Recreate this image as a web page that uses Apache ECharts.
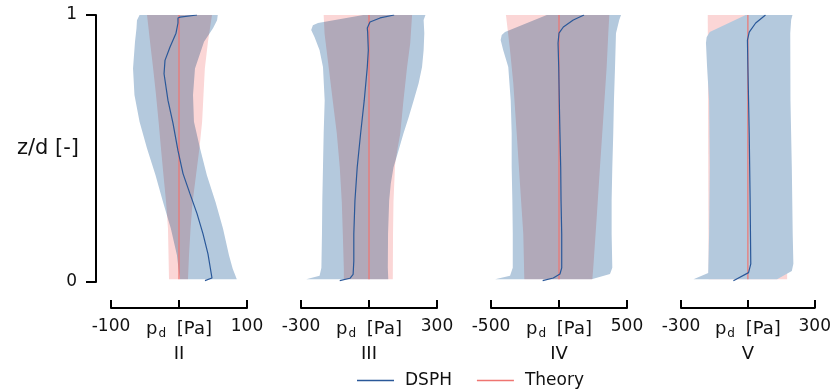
<!DOCTYPE html>
<html>
<head>
<meta charset="utf-8">
<script src="https://cdn.jsdelivr.net/npm/echarts@6/dist/echarts.min.js"></script>
<style>
  html, body { margin: 0; padding: 0; background: #fff; }
  #chart { width: 834px; height: 391px; }
  /* the DSPH envelope layer (zlevel 1) is multiplied onto the theory envelope */
  #chart canvas[data-zr-dom-id="zr_1"] { mix-blend-mode: multiply; }
</style>
</head>
<body>
<div id="chart"></div>
<script>
// Four test cases, each with its own pressure range (Pa)
const panelNames = ['II', 'III', 'IV', 'V'];
const panelRanges = [100, 300, 500, 300];

// Envelopes are lists of [p_d (Pa), z/d] pairs, bottom to top.
// Case II
const theoryMinII = [[-14.7,0.01],[-15.4,0.1],[-16.2,0.2],[-19,0.3],[-22.8,0.4],[-26.5,0.5],[-30,0.6],[-33.8,0.7],[-38,0.8],[-42.6,0.9],[-47,1]];
const theoryMaxII = [[13.2,0.01],[14.7,0.1],[17,0.2],[20,0.3],[25,0.4],[30,0.5],[34,0.6],[36,0.7],[38,0.8],[42.6,0.9],[48.5,1]];
const dsphMinII = [[1.5,0.01],[-0.7,0.05],[-3,0.1],[-12,0.2],[-23.5,0.3],[-34.5,0.4],[-47,0.5],[-58,0.6],[-65.5,0.7],[-67.6,0.8],[-64.7,0.9],[-62.5,0.95],[-61.8,0.98],[-58,1]];
const dsphMaxII = [[85,0.01],[79,0.05],[73.5,0.1],[64.7,0.2],[53.7,0.3],[41,0.4],[31,0.5],[22,0.6],[20.6,0.7],[23.5,0.8],[36.8,0.9],[50,0.95],[56,0.98],[57,1]];
const dsphMeanII = [[38.2,0.005],[48.5,0.015],[42.6,0.105],[35.3,0.18],[26.5,0.256],[16.2,0.33],[5.9,0.406],[-1.5,0.492],[-8.8,0.594],[-16.2,0.68],[-22,0.78],[-20.6,0.83],[-13.2,0.88],[-4.4,0.932],[-1.5,0.97],[-1.5,0.989],[1.5,0.992],[26.5,1]];

// Case III
const theoryMinIII = [[-111,0.01],[-111,0.05],[-115.5,0.18],[-120,0.3],[-129,0.43],[-142,0.556],[-160,0.68],[-178,0.805],[-196,0.93],[-200,1]];
const theoryMaxIII = [[105,0.01],[106,0.18],[108,0.3],[115,0.44],[126,0.5],[138,0.556],[152,0.68],[168,0.805],[182,0.895],[190,1]];
const dsphMinIII = [[-277,0.01],[-218,0.023],[-210,0.053],[-207.5,0.18],[-206,0.305],[-203,0.43],[-200,0.556],[-195.5,0.68],[-203,0.805],[-218,0.868],[-240,0.917],[-255,0.944],[-247.5,0.962],[-225,0.97],[-25,1]];
const dsphMaxIII = [[85,0.01],[83,0.053],[84,0.18],[89,0.305],[96,0.368],[108,0.429],[130,0.492],[152,0.556],[175,0.617],[197,0.68],[219,0.744],[234,0.805],[241,0.868],[244,0.932],[241,0.981],[249,1]];
const dsphMeanIII = [[-129,0.005],[-84,0.014],[-70,0.029],[-67,0.079],[-67,0.18],[-62,0.305],[-52,0.43],[-37,0.556],[-21,0.68],[-7.5,0.805],[-3,0.868],[-6,0.936],[-7.5,0.951],[4.4,0.974],[49,0.989],[111,1]];

// Case IV
const theoryMinIV = [[-255,0.01],[-262.5,0.18],[-287,0.368],[-311,0.556],[-336,0.744],[-360,0.868],[-390,1]];
const theoryMaxIV = [[245,0.01],[252,0.053],[277,0.241],[301,0.429],[326,0.617],[350.5,0.805],[362.5,0.932],[370,1]];
const dsphMinIV = [[-470,0.01],[-360,0.023],[-340,0.053],[-340,0.18],[-343,0.305],[-348,0.43],[-348,0.556],[-355,0.68],[-373,0.805],[-410,0.868],[-429,0.906],[-421,0.925],[-397,0.936],[-90,1]];
const dsphMaxIV = [[240,0.01],[375,0.03],[392,0.053],[387,0.18],[387,0.305],[392,0.43],[399,0.556],[404,0.68],[412,0.805],[419,0.932],[443,0.981],[456,1]];
const dsphMeanIV = [[-120,0.005],[-42,0.015],[7,0.03],[20,0.053],[20,0.18],[15,0.305],[12.5,0.43],[7,0.556],[2,0.68],[-2,0.805],[-7,0.895],[0,0.932],[32,0.955],[105,0.981],[184,1]];

// Case V
const theoryMinV = [[-176,0.01],[-178,0.5],[-180,1]];
const theoryMaxV = [[176,0.01],[178,0.5],[180,1]];
const dsphMinV = [[-244,0.01],[-178,0.034],[-174,0.18],[-171,0.43],[-174,0.68],[-183,0.805],[-188,0.895],[-185,0.917],[-171,0.936],[-10,1]];
const dsphMaxV = [[131,0.01],[197,0.041],[204,0.068],[201,0.18],[197,0.43],[191,0.68],[190,0.932],[194,0.981],[200,1]];
const dsphMeanV = [[-65,0.005],[3,0.035],[13,0.068],[10,0.305],[6,0.556],[0,0.805],[-2,0.906],[6,0.936],[35,0.97],[79,1]];

// Theoretical mean dynamic pressure is zero over the depth
const theoryMean = [[0,0.01],[0,1]];

const theoryMins = [theoryMinII, theoryMinIII, theoryMinIV, theoryMinV];
const theoryMaxs = [theoryMaxII, theoryMaxIII, theoryMaxIV, theoryMaxV];
const dsphMins = [dsphMinII, dsphMinIII, dsphMinIV, dsphMinV];
const dsphMaxs = [dsphMaxII, dsphMaxIII, dsphMaxIV, dsphMaxV];
const dsphMeans = [dsphMeanII, dsphMeanIII, dsphMeanIV, dsphMeanV];

const FONT = 'DejaVu Sans';
const COLORS = {
  theoryBand: '#fbd6d6',
  dsphBand: '#b4c9dd',
  theoryLine: '#ef7571',
  dsphLine: '#2a5899',
  axis: '#000',
  text: '#111'
};
// zlevel 1 is multiplied onto the layer below; case V keeps its DSPH envelope opaque on top
const dsphLayer = [1, 1, 1, 0];

// closed outline: left edge upward, right edge downward
function envelope(minEdge, maxEdge) {
  return minEdge.concat(maxEdge.slice().reverse());
}

function bandSeries(i, pts, fill, zlevel, name) {
  return {
    type: 'custom',
    name: name,
    xAxisIndex: i,
    yAxisIndex: i,
    zlevel: zlevel,
    silent: true,
    data: pts,
    encode: { x: 0, y: 1 },
    renderItem: function (params, api) {
      if (params.dataIndex !== 0) return null;
      return {
        type: 'polygon',
        shape: { points: pts.map(function (p) { return api.coord(p); }) },
        style: { fill: fill, stroke: null }
      };
    }
  };
}

const PANEL_LEFT = 111, PANEL_STEP = 190, PANEL_W = 136;
const grids = [], xAxes = [], yAxes = [], series = [];

panelNames.forEach(function (name, i) {
  const r = panelRanges[i];
  grids.push({ left: PANEL_LEFT + PANEL_STEP * i, width: PANEL_W, top: 15, height: 267 });
  xAxes.push({
    gridIndex: i, type: 'value', min: -r, max: r, interval: r,
    position: 'bottom', offset: 26,
    axisLine: { show: true, onZero: false, lineStyle: { color: COLORS.axis, width: 2 } },
    axisTick: { show: true, inside: true, length: 8, lineStyle: { color: COLORS.axis, width: 2 } },
    splitLine: { show: false },
    axisLabel: {
      margin: 10, color: COLORS.text, fontFamily: FONT, fontSize: 17,
      formatter: function (v) { return v === 0 ? '{p|p}{s|d}{p| [Pa]}' : String(v); },
      rich: {
        p: { fontFamily: FONT, fontSize: 18, lineHeight: 22, color: COLORS.text },
        s: { fontFamily: FONT, fontSize: 12, lineHeight: 11, verticalAlign: 'bottom', color: COLORS.text, padding: [0, 5, 0, 1] }
      }
    },
    name: name, nameLocation: 'middle', nameGap: 37, nameMoveOverlap: false,
    nameTextStyle: { fontFamily: FONT, fontSize: 18, color: COLORS.text }
  });
  yAxes.push({
    gridIndex: i, type: 'value', min: 0, max: 1, interval: 1,
    show: i === 0, offset: 15,
    axisLine: { show: true, onZero: false, lineStyle: { color: COLORS.axis, width: 2 } },
    axisTick: { show: true, length: 10, lineStyle: { color: COLORS.axis, width: 2 } },
    splitLine: { show: false },
    axisLabel: { margin: 19, color: COLORS.text, fontFamily: FONT, fontSize: 17 },
    name: i === 0 ? 'z/d [-]' : '', nameLocation: 'middle', nameRotate: 0, nameGap: 17,
    nameMoveOverlap: false,
    nameTextStyle: { fontFamily: FONT, fontSize: 21, color: COLORS.text, align: 'right' }
  });

  series.push(bandSeries(i, envelope(theoryMins[i], theoryMaxs[i]), COLORS.theoryBand, 0, 'Theory range'));
  series.push(bandSeries(i, envelope(dsphMins[i], dsphMaxs[i]), COLORS.dsphBand, dsphLayer[i], 'DSPH range'));
  series.push({
    type: 'line', name: 'Theory', xAxisIndex: i, yAxisIndex: i, zlevel: 2,
    data: theoryMean, showSymbol: false, silent: true,
    lineStyle: { color: COLORS.theoryLine, width: 1.2 }, itemStyle: { color: COLORS.theoryLine }
  });
  series.push({
    type: 'line', name: 'DSPH', xAxisIndex: i, yAxisIndex: i, zlevel: 2,
    data: dsphMeans[i], showSymbol: false, silent: true,
    lineStyle: { color: COLORS.dsphLine, width: 1.2 }, itemStyle: { color: COLORS.dsphLine }
  });
});

const chart = echarts.init(document.getElementById('chart'), null, { renderer: 'canvas' });
chart.setOption({
  animation: false,
  backgroundColor: '#fff',
  grid: grids,
  xAxis: xAxes,
  yAxis: yAxes,
  legend: {
    data: ['DSPH', 'Theory'],
    left: 352, top: 367,
    icon: 'rect', itemWidth: 37, itemHeight: 1.5, itemGap: 25,
    selectedMode: false,
    textStyle: { fontFamily: FONT, fontSize: 17, color: COLORS.text, padding: [0, 0, 0, 6] }
  },
  series: series
});
</script>
</body>
</html>
